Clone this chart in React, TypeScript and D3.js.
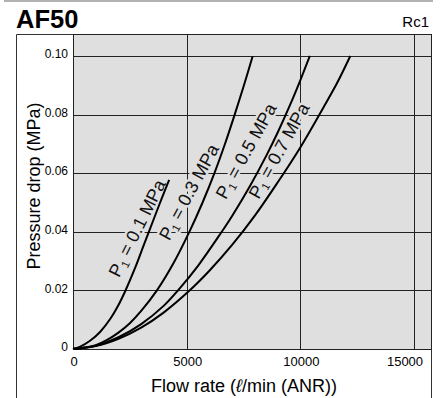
import React from 'react';
import * as d3 from 'd3';

// Flow rate (l/min ANR) vs pressure drop (MPa), one pair of arrays per inlet pressure
const flowP01 = [0, 300, 750, 1200, 1650, 2000, 2300, 2750, 3150, 3600, 3900, 4230];
const dropP01 = [0, 0.00075, 0.0028, 0.0059, 0.0104, 0.015, 0.0198, 0.0280, 0.0362, 0.0453, 0.0513, 0.0577];

const flowP03 = [0, 1000, 1500, 2000, 2500, 3000, 3700, 4400, 5150, 5700, 6230, 6700, 7130, 7500, 7900];
const dropP03 = [0, 0.0013, 0.0031, 0.0056, 0.0088, 0.013, 0.0201, 0.029, 0.0405, 0.05, 0.0602, 0.0703, 0.0804, 0.0895, 0.0998];

const flowP05 = [0, 1000, 2000, 3000, 4000, 4630, 5500, 6500, 7000, 7800, 8500, 9000, 9550, 10000, 10420];
const dropP05 = [0, 0.0011, 0.004, 0.0085, 0.0148, 0.0201, 0.0284, 0.0395, 0.0454, 0.0558, 0.0659, 0.0738, 0.0833, 0.0917, 0.1];

const flowP07 = [0, 1000, 2000, 3000, 4000, 5150, 6000, 7000, 8000, 9000, 10000, 11000, 11600, 12200];
const dropP07 = [0, 0.001, 0.0035, 0.0073, 0.0125, 0.0201, 0.0267, 0.0355, 0.0455, 0.0568, 0.0688, 0.0822, 0.0905, 0.1];

const pressures = ['0.1', '0.3', '0.5', '0.7'];
// where each curve's label sits (flow, drop) and its slant
const labelFlow = [2815, 5100, 7610, 9060];
const labelDrop = [0.0413, 0.0536, 0.0676, 0.0677];
const labelAngle = [-63.5, -61.5, -61, -61];

const flowTicks = [0, 5000, 10000, 15000];
const dropTicks = [0, 0.02, 0.04, 0.06, 0.08, 0.1];
const dropTickLabels = ['0', '0.02', '0.04', '0.06', '0.08', '0.10'];

const W = 446;
const H = 398;
const FONT = '"Liberation Sans", Arial, Helvetica, sans-serif';

const App: React.FC = () => {
  const left = 73, right = 431, top = 34, bottom = 349;

  const x = d3.scaleLinear().domain([0, 15750]).range([left, right]);
  const y = d3.scaleLinear().domain([0, 0.1075]).range([bottom, top]);

  const series = [
    d3.zip(flowP01, dropP01),
    d3.zip(flowP03, dropP03),
    d3.zip(flowP05, dropP05),
    d3.zip(flowP07, dropP07),
  ] as [number, number][][];

  const line = d3.line<[number, number]>()
    .x(d => x(d[0]))
    .y(d => y(d[1]))
    .curve(d3.curveCatmullRom.alpha(0.5));

  const bg = '#dfdfdf';

  return (
    <svg width={W} height={H} style={{ position: 'absolute', left: 0, top: 0 }} fontFamily={FONT}>
      <rect width={W} height={H} fill="white" />
      {/* header */}
      <line x1={4} x2={433} y1={1} y2={1} stroke="#999" strokeWidth={1.5} />
      <text x={16} y={28} fontSize={25.5} fontWeight="bold">AF50</text>
      <text x={429} y={27} fontSize={15} textAnchor="end">Rc1</text>

      {/* outer box */}
      <path d={`M16.5,${H + 2}V34.5H431.5V${H + 2}`} fill="none" stroke="#333" strokeWidth={1} />

      {/* plot area */}
      <rect x={left} y={top} width={right - left} height={bottom - top} fill={bg} />
      {flowTicks.map(v => (
        <line key={'gx' + v} x1={Math.round(x(v)) + 0.5} x2={Math.round(x(v)) + 0.5} y1={top} y2={bottom}
          stroke="#222" strokeWidth={1} />
      ))}
      {dropTicks.map(v => (
        <line key={'gy' + v} x1={left} x2={right} y1={Math.round(y(v)) + 0.5} y2={Math.round(y(v)) + 0.5}
          stroke="#222" strokeWidth={1} />
      ))}
      <rect x={left + 0.5} y={top + 0.5} width={right - left} height={bottom - top} fill="none" stroke="#222" strokeWidth={1} />

      {/* curve labels with halo */}
      {pressures.map((p, i) => (
        <text key={'lb' + p}
          transform={`translate(${x(labelFlow[i])},${y(labelDrop[i])}) rotate(${labelAngle[i]})`}
          textAnchor="middle" dy="0.35em" fontSize={18} fill="#111"
          stroke={bg} strokeWidth={5} paintOrder="stroke" strokeLinejoin="round">
          P<tspan fontSize="0.62em" dy="0.3em">1</tspan><tspan dy="-0.19em"> = {p} MPa</tspan>
        </text>
      ))}

      {series.map((s, i) => (
        <path key={'c' + i} d={line(s) || ''} fill="none" stroke="#000" strokeWidth={2} />
      ))}

      {/* tick labels */}
      {dropTicks.map((v, i) => (
        <text key={'ty' + v} x={68} y={y(v) - 2} dy="0.35em" textAnchor="end" fontSize={12}>
          {dropTickLabels[i]}
        </text>
      ))}
      {flowTicks.map(v => (
        <text key={'tx' + v} x={Math.min(x(v) + 1, right - 26)} y={366} textAnchor="middle" fontSize={13}>
          {v}
        </text>
      ))}

      {/* axis titles */}
      <text x={244} y={392} textAnchor="middle" fontSize={18}>
        Flow rate (<tspan fontStyle="italic">ℓ</tspan>/min (ANR))
      </text>
      <text transform="translate(40,186) rotate(-90)" textAnchor="middle" fontSize={18}>
        Pressure drop (MPa)
      </text>
    </svg>
  );
};

export default App;
